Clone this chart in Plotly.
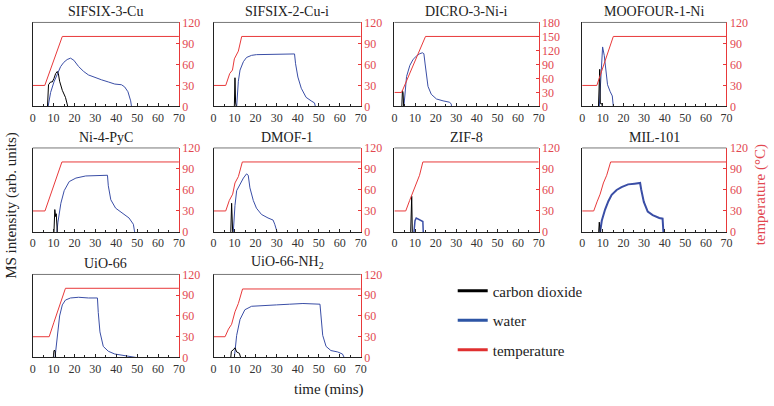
import plotly.graph_objects as go

# ---------------- data ----------------
titles = ["SIFSIX-3-Cu", "SIFSIX-2-Cu-i", "DICRO-3-Ni-i", "MOOFOUR-1-Ni",
          "Ni-4-PyC", "DMOF-1", "ZIF-8", "MIL-101",
          "UiO-66", "UiO-66-NH<sub>2</sub>"]
temp_max = [120, 120, 180, 120, 120, 120, 120, 120, 120, 120]

# temperature (time, °C)
temp_t = [
    [0, 5.8, 14.2, 70],
    [0, 5.8, 7.7, 9.0, 9.9, 11.8, 13.4, 70],
    [0, 3.5, 15.1, 70],
    [0, 7.1, 15.1, 70],
    [0, 5.9, 14.0, 70],
    [0, 5.8, 7.5, 9.1, 10.2, 11.8, 13.7, 70],
    [0, 5.5, 7.4, 10.3, 12.2, 13.8, 70],
    [0, 5.6, 7.2, 8.7, 10.3, 11.9, 13.8, 70],
    [0, 7.9, 10.2, 12.6, 15.7, 70],
    [0, 5.5, 7.1, 8.6, 10.2, 11.8, 13.8, 70],
]
temp_v = [
    [30, 30, 100, 100],
    [30, 30, 47, 52, 68, 79, 100, 100],
    [30, 30, 150, 150],
    [30, 30, 100, 100],
    [30, 30, 100, 100],
    [30, 30, 45, 54, 70, 79, 100, 100],
    [30, 30, 45, 68, 81, 100, 100],
    [30, 30, 43, 54, 70, 81, 100, 100],
    [30, 30, 51, 72, 100, 100],
    [30, 30, 41, 48, 66, 78, 99, 99],
]

# carbon dioxide MS signal (arb. units)
co2_t = [
    [7.1, 7.6, 8.6, 9.4, 10.2, 11.0, 11.8, 12.3, 12.9, 14.2, 15.7, 16.8],
    [9.9, 10.2, 10.5, 10.8],
    [3.6, 3.9, 4.2, 4.5],
    [7.9, 8.5, 8.8, 9.5, 9.8],
    [10.2, 10.6, 11.0, 11.3, 11.8],
    [8.2, 8.6, 9.1],
    [7.9, 8.4, 8.7],
    [8.0, 8.3, 8.7],
    [9.9, 10.2, 10.7, 11.0],
    [8.2, 8.5, 9.4, 10.2, 11.0, 12.3, 12.9],
]
co2_v = [
    [0, 31, 35, 35, 40, 47, 50, 47, 36, 23, 13, 0],
    [0, 41, 5, 0],
    [0, 34, 30, 0],
    [0, 53, 4, 4, 0],
    [0, 32, 22, 26, 0],
    [0, 41, 0],
    [0, 51, 0],
    [0, 14, 0],
    [0, 10, 10, 0],
    [0, 9, 11, 14, 8, 6, 0],
]

# water MS signal (arb. units)
h2o_t = [
    [7.4, 8.6, 10.2, 11.8, 13.4, 14.9, 16.5, 18.1, 19.7, 22.0, 24.4, 26.7, 29.9, 33.0, 36.2, 39.3, 42.5, 44.0, 45.6, 46.9, 47.3],
    [11.0, 11.8, 12.6, 14.2, 15.7, 18.1, 20.4, 28.3, 36.2, 38.5, 39.0, 40.1, 41.7, 44.0, 46.4, 48.0, 48.4],
    [4.6, 5.9, 7.5, 9.1, 10.7, 12.3, 13.6, 14.3, 14.9, 15.5, 16.3, 17.9, 20.4, 23.6, 26.8, 27.6, 27.7],
    [8.3, 9.1, 9.9, 10.7, 11.5, 12.3, 13.6, 14.6, 15.1],
    [11.6, 12.1, 13.5, 15.1, 17.5, 20.7, 25.4, 30.2, 35.8, 36.2, 37.4, 39.7, 42.9, 46.1, 48.2, 48.8],
    [9.4, 10.2, 11.0, 12.6, 14.2, 15.7, 16.5, 17.3, 18.9, 20.4, 22.8, 25.9, 28.3, 29.1, 30.2],
    [9.5, 10.0, 10.6, 11.4, 12.5, 13.8, 14.0],
    [8.7, 9.5, 11.1, 12.7, 14.3, 16.7, 19.1, 22.3, 25.4, 28.1, 28.6, 29.9, 31.8, 34.2, 37.4, 39.0, 39.4],
    [10.7, 11.8, 12.9, 14.2, 15.7, 18.1, 22.0, 26.7, 31.0, 31.4, 32.2, 33.8, 36.2, 39.3, 45.6, 48.7, 49.5],
    [9.9, 11.0, 12.6, 14.9, 18.1, 22.0, 29.9, 36.2, 42.5, 50.6, 51.1, 51.9, 53.5, 55.8, 59.0, 61.3, 62.1],
]
h2o_v = [
    [0, 20, 35, 47, 57, 63, 67, 69, 66, 57, 50, 45, 41, 38, 35, 32, 31, 28, 21, 8, 0],
    [0, 36, 52, 64, 70, 73, 74, 74, 74, 75, 61, 42, 26, 13, 8, 5, 0],
    [0, 64, 88, 101, 108, 113, 115, 113, 91, 64, 43, 26, 16, 12, 9, 5, 0],
    [0, 49, 85, 73, 49, 31, 21, 15, 0],
    [0, 14, 41, 59, 72, 77, 80, 80, 81, 66, 46, 34, 27, 20, 11, 0],
    [0, 38, 59, 68, 77, 83, 81, 63, 45, 34, 25, 20, 17, 11, 0],
    [0, 16, 20, 19, 17, 15, 0],
    [0, 16, 32, 44, 53, 60, 64, 68, 69, 70, 61, 43, 29, 24, 20, 19, 0],
    [0, 32, 60, 76, 83, 86, 87, 86, 86, 65, 37, 16, 9, 5, 2, 1, 0],
    [0, 32, 55, 69, 74, 75, 76, 77, 78, 77, 60, 32, 16, 10, 8, 5, 0],
]
water_width = [1, 1, 1, 1, 1, 1, 1.5, 2, 1, 1]

x_ticks = [0, 10, 20, 30, 40, 50, 60, 70]

# ---------------- styling / layout ----------------
W, H = 774, 406
BLUE = "#3a4ea6"
RED = "#e8393a"
RED_TXT = "#e2474f"
FONT = "'Liberation Serif', 'DejaVu Serif', serif"

col_px = [(30, 178), (213, 362), (396, 542), (586, 732)]
row_px = [(16, 103), (146, 233), (277, 363)]

fig = go.Figure()
layout = {}

for k in range(10):
    r, c = divmod(k, 4)
    xi = k + 1
    yl = 2 * k + 1
    yr = 2 * k + 2
    xname = "x" if xi == 1 else f"x{xi}"
    ylname = "y" if yl == 1 else f"y{yl}"
    yrname = f"y{yr}"
    xdom = [col_px[c][0] / W, col_px[c][1] / W]
    ydom = [1 - row_px[r][1] / H, 1 - row_px[r][0] / H]
    tmax = temp_max[k]

    layout["xaxis" if xi == 1 else f"xaxis{xi}"] = dict(
        domain=xdom, anchor=ylname, range=[0, 70], tickvals=x_ticks,
        showline=True, linecolor="#222", linewidth=1, ticks="inside",
        ticklen=3, tickcolor="#222",
        minor=dict(dtick=5, ticks="inside", ticklen=2, tickcolor="#222"),
        showgrid=False, zeroline=False,
        tickfont=dict(family=FONT, size=12, color="#333"),
    )
    layout["yaxis" if yl == 1 else f"yaxis{yl}"] = dict(
        domain=ydom, anchor=xname, range=[0, tmax], showticklabels=False,
        showline=True, linecolor="#222", linewidth=1, ticks="",
        showgrid=False, zeroline=False,
    )
    layout[f"yaxis{yr}"] = dict(
        domain=ydom, anchor=xname, overlaying=ylname, side="right",
        range=[0, tmax], dtick=30, showline=True, linecolor=RED, linewidth=1,
        ticks="inside", ticklen=3, tickcolor=RED, showgrid=False, zeroline=False,
        tickfont=dict(family=FONT, size=12, color=RED_TXT),
    )

    fig.add_trace(go.Scatter(x=temp_t[k], y=temp_v[k], mode="lines",
                             line=dict(color=RED, width=1), xaxis=xname, yaxis=yrname,
                             showlegend=False, hoverinfo="skip"))
    fig.add_trace(go.Scatter(x=h2o_t[k], y=h2o_v[k], mode="lines",
                             line=dict(color=BLUE, width=water_width[k]), xaxis=xname, yaxis=ylname,
                             showlegend=False, hoverinfo="skip"))
    fig.add_trace(go.Scatter(x=co2_t[k], y=co2_v[k], mode="lines",
                             line=dict(color="black", width=1), xaxis=xname, yaxis=ylname,
                             showlegend=False, hoverinfo="skip"))

    # top frame line
    fig.add_shape(type="line", xref=f"{xname} domain", yref=f"{ylname} domain",
                  x0=0, x1=1, y0=1, y1=1, line=dict(color="#777", width=1))
    # panel title
    fig.add_annotation(text=titles[k], xref=f"{xname} domain", yref=f"{ylname} domain",
                       x=0.5, y=1, xanchor="center", yanchor="bottom", yshift=1,
                       showarrow=False, font=dict(family=FONT, size=14, color="#222"))

# legend entries (dummy traces with thick lines)
for name, col in [("carbon dioxide", "black"), ("water", "#2d55a5"), ("temperature", "#e03030")]:
    fig.add_trace(go.Scatter(x=[None], y=[None], mode="lines", name=name,
                             line=dict(color=col, width=3), legendgroup=name,
                             xaxis="x", yaxis="y"))

# global axis titles
fig.add_annotation(text="MS intensity (arb. units)", xref="paper", yref="paper",
                   x=9 / W, y=1 - 205 / H, xanchor="center", yanchor="middle",
                   textangle=-90, showarrow=False,
                   font=dict(family=FONT, size=15, color="#222"))
fig.add_annotation(text="temperature (°C)", xref="paper", yref="paper",
                   x=766 / W, y=1 - 195 / H, xanchor="center", yanchor="middle",
                   textangle=-90, showarrow=False,
                   font=dict(family=FONT, size=15, color=RED_TXT))
fig.add_annotation(text="time (mins)", xref="paper", yref="paper",
                   x=330 / W, y=1 - 396 / H, xanchor="center", yanchor="middle",
                   showarrow=False,
                   font=dict(family=FONT, size=15, color="#222"))

fig.update_layout(
    **layout,
    width=W, height=H,
    margin=dict(l=0, r=0, t=0, b=0),
    paper_bgcolor="white", plot_bgcolor="white",
    font=dict(family=FONT),
    showlegend=True,
    legend=dict(x=455 / W, y=1 - 277 / H, xanchor="left", yanchor="top",
                font=dict(family=FONT, size=15, color="#222"),
                tracegroupgap=7, bgcolor="rgba(0,0,0,0)"),
)

fig.write_html("out.html", config={"displayModeBar": False},
               post_script="document.body.style.margin='0';document.body.style.overflow='hidden';")
